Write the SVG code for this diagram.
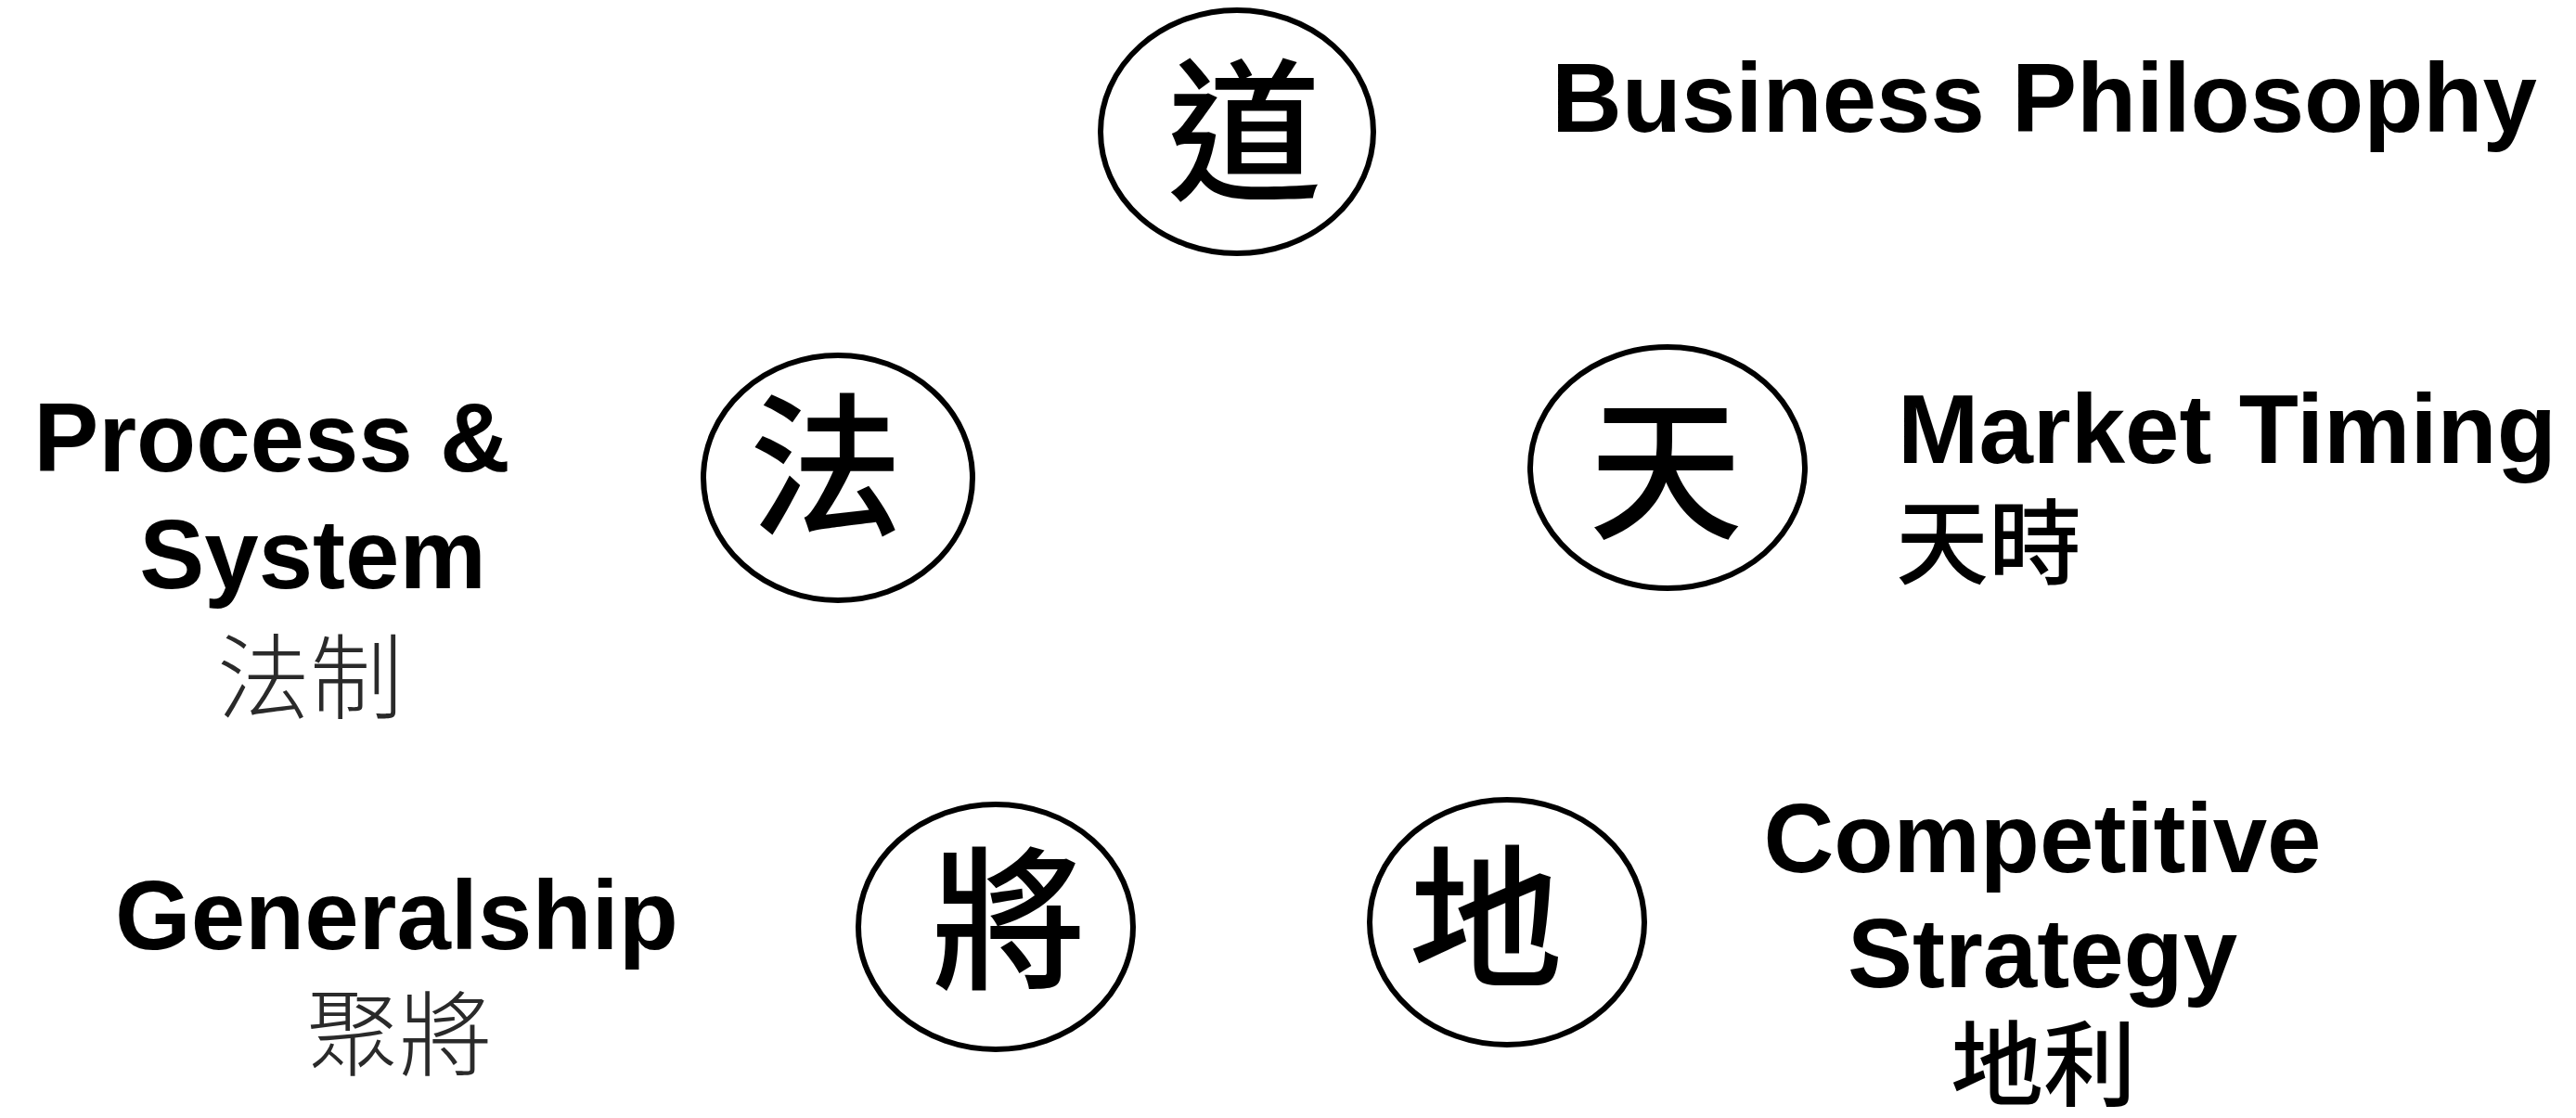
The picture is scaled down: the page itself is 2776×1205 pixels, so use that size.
<svg xmlns="http://www.w3.org/2000/svg" width="2776" height="1205" viewBox="0 0 2776 1205">
<style>
.bg{fill:#fff}
.ring{fill:#fff;stroke:#000;stroke-width:6}
.glyph{font-family:"Noto Sans CJK TC","Noto Sans CJK SC",sans-serif;font-size:166px;font-weight:500;fill:#000;text-anchor:middle;dominant-baseline:central}
.en{font-family:"Liberation Sans",Arial,sans-serif;font-weight:bold;font-size:105px;fill:#000}
.zh{font-family:"Noto Sans CJK TC","Noto Sans CJK SC",sans-serif;font-size:100px;font-weight:500;fill:#000}
.zhl{font-family:"Noto Sans CJK TC","Noto Sans CJK SC",sans-serif;font-size:100px;font-weight:300;fill:#2a2a2a}
.mid{text-anchor:middle}
</style>
<rect class="bg" x="0" y="0" width="2776" height="1205"/>
<g id="connectors"></g>
<g id="node-dao">
<ellipse class="ring" cx="1333" cy="142" rx="147" ry="131"/>
<text class="glyph" x="1341" y="130">道</text>
<text class="en" x="1672" y="142">Business Philosophy</text>
</g>
<g id="node-fa">
<ellipse class="ring" cx="903" cy="515" rx="145" ry="132"/>
<text class="glyph" x="890" y="491">法</text>
<text class="en mid" x="293" y="508">Process &amp;</text>
<text class="en mid" x="337" y="634">System</text>
<text class="zhl mid" x="334" y="767">法制</text>
</g>
<g id="node-tian">
<ellipse class="ring" cx="1797" cy="504" rx="148" ry="130"/>
<text class="glyph" x="1795" y="495">天</text>
<text class="en" x="2045" y="499">Market Timing</text>
<text class="zh" x="2043" y="622">天時</text>
</g>
<g id="node-jiang">
<ellipse class="ring" cx="1073" cy="999" rx="148" ry="132"/>
<text class="glyph" x="1087" y="980">將</text>
<text class="en" x="124" y="1023">Generalship</text>
<text class="zhl mid" x="430" y="1152">聚將</text>
</g>
<g id="node-di">
<ellipse class="ring" cx="1624" cy="994" rx="148" ry="132"/>
<text class="glyph" x="1601" y="978">地</text>
<text class="en mid" x="2201" y="940">Competitive</text>
<text class="en mid" x="2201" y="1064">Strategy</text>
<text class="zh mid" x="2202" y="1184">地利</text>
</g>
</svg>
